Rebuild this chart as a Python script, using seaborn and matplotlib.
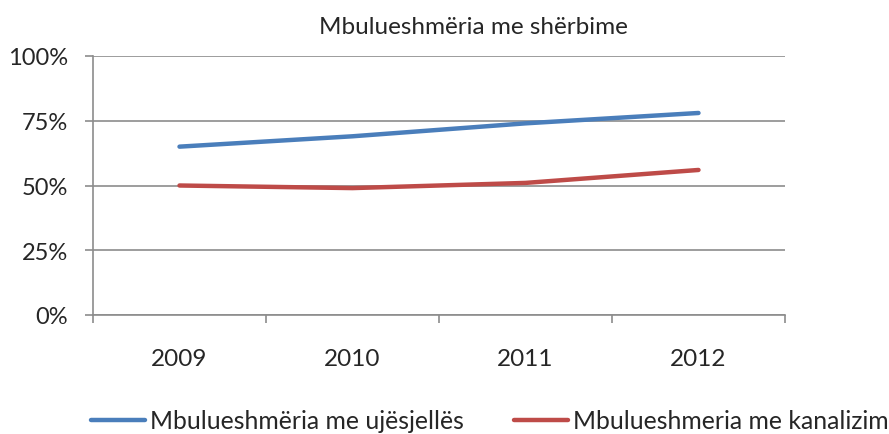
import numpy as np
import pandas as pd
import matplotlib
matplotlib.use('Agg')
import matplotlib.pyplot as plt
from matplotlib.ticker import FixedLocator, PercentFormatter
import seaborn as sns

# data
years = ['2009', '2010', '2011', '2012']
ujesjelles = [65, 69, 74, 78]
kanalizim = [50, 49, 51, 56]
series_names = ['Mbulueshmëria me ujësjellës', 'Mbulueshmeria me kanalizim']
colors = ['#4A7EBB', '#BE4B48']

df = pd.DataFrame({
    'Viti': years * 2,
    'Vlera': ujesjelles + kanalizim,
    'Seria': [series_names[0]] * len(years) + [series_names[1]] * len(years),
})

sns.set_style('white')
plt.rcParams['font.family'] = ['Lato', 'DejaVu Sans']

fig = plt.figure(figsize=(8.89, 4.35), dpi=100)
ax = fig.add_axes([93 / 889, 1 - 316 / 435, 692 / 889, 259 / 435])

sns.lineplot(data=df, x='Viti', y='Vlera', hue='Seria', palette=colors,
             linewidth=3.2, ax=ax, legend=True)
for ln in ax.lines:
    ln.set_solid_capstyle('round')

ax.set_xlim(-0.5, 3.5)
ax.set_ylim(0, 100)
ax.set_yticks([0, 25, 50, 75, 100])
ax.yaxis.set_major_formatter(PercentFormatter(decimals=0))
ax.yaxis.grid(True, color='#8c8c8c', linewidth=1.2)
ax.set_axisbelow(True)

ax.set_xticks(range(len(years)))
ax.set_xticklabels(years)
ax.xaxis.set_minor_locator(FixedLocator(np.arange(-0.5, len(years), 1.0)))
ax.tick_params(axis='x', which='major', length=0, pad=24, labelsize=17.5)
ax.tick_params(axis='x', which='minor', length=6, width=1.2, color='#8c8c8c', direction='out', bottom=True)
ax.tick_params(axis='y', length=6, width=1.2, color='#8c8c8c', pad=12, labelsize=17, left=True, direction='out')

for side in ['top', 'right']:
    ax.spines[side].set_visible(False)
for side in ['left', 'bottom']:
    ax.spines[side].set_color('#8c8c8c')
    ax.spines[side].set_linewidth(1.2)

ax.set_xlabel('')
ax.set_ylabel('')

fig.text(473 / 889, 1 - 27 / 435, 'Mbulueshmëria me shërbime', ha='center', va='center', fontsize=17.5)

handles, labels = ax.get_legend_handles_labels()
ax.get_legend().remove()
fig.legend(handles, labels, loc='center left', bbox_to_anchor=(91 / 889, 1 - 422 / 435),
           ncol=2, frameon=False, fontsize=17.8, handlelength=2.2, handletextpad=0.2,
           columnspacing=2.0, borderpad=0, borderaxespad=0)

fig.savefig('out.png', dpi=100)
